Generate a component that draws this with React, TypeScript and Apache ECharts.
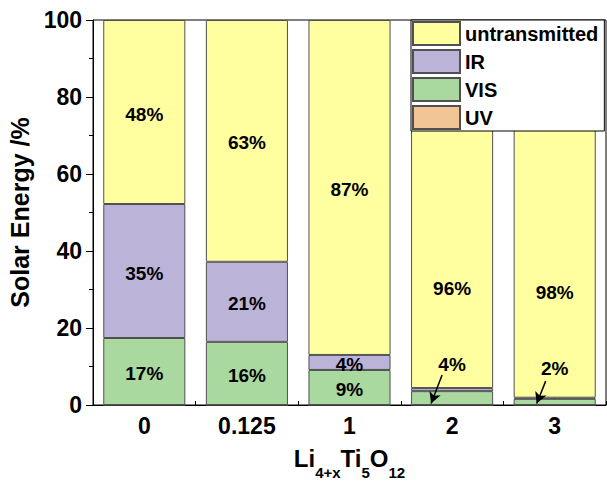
import React, { useEffect, useRef } from 'react';
import * as echarts from 'echarts';

const categories = ['0', '0.125', '1', '2', '3'];
const uvValues = [0, 0, 0, 0, 0];
const visValues = [17.4, 16.4, 9.1, 3.6, 1.6];
const irValues = [34.8, 20.8, 3.9, 0.8, 0.3];
const untransmittedValues = [47.8, 62.8, 87.0, 95.6, 98.1];
const visLabels = ['17%', '16%', '9%', '4%', '2%'];
const irLabels = ['35%', '21%', '4%', '', ''];
const untransmittedLabels = ['48%', '63%', '87%', '96%', '98%'];
const uvLabels = ['', '', '', '', ''];
// arrows pointing to small VIS segments: [category index, start value, end value]
const arrowBars = [3, 4];
const arrowStartValues = [7.8, 6.2];
const arrowEndValues = [0.4, 0.4];

const FONT = 'Liberation Sans, Arial, Helvetica, sans-serif';
const COLORS = {
  untransmitted: '#FFFFA0',
  IR: '#BCB3D8',
  VIS: '#AAD9A0',
  UV: '#F2C597',
};

function buildData(values: number[], labels: string[], overrides: Record<number, any> = {}) {
  return values.map((v, i) => ({
    value: v,
    label: {
      show: labels[i] !== '',
      formatter: labels[i] || '',
      ...(overrides[i] || {}),
    },
  }));
}

export default function App() {
  const ref = useRef<HTMLDivElement>(null);

  useEffect(() => {
    if (!ref.current) return;
    const chart = echarts.init(ref.current, null, { renderer: 'svg' });
    const labelStyle = {
      show: true,
      position: 'inside',
      color: '#000',
      fontSize: 19,
      fontWeight: 'bold',
      fontFamily: FONT,
      offset: [0, 2],
    };
    const barBase = (name: string) => ({
      name,
      type: 'bar',
      stack: 'total',
      barCategoryGap: '20%',
      itemStyle: { color: (COLORS as any)[name], borderColor: '#505050', borderWidth: 1 },
      label: labelStyle,
      emphasis: { disabled: true },
    });
    const option: any = {
      animation: false,
      textStyle: { fontFamily: FONT },
      grid: {
        left: 93,
        top: 20,
        right: 1,
        bottom: 76,
        outerBoundsMode: 'none',
        containLabel: false,
        show: true,
        borderColor: '#000',
        borderWidth: 1,
        backgroundColor: 'transparent',
      },
      legend: {
        data: ['untransmitted', 'IR', 'VIS', 'UV'],
        orient: 'vertical',
        left: 411,
        top: 20,
        itemWidth: 47,
        itemHeight: 23,
        itemGap: 3,
        padding: [1, 6, 1, 1],
        backgroundColor: '#fff',
        borderColor: '#000',
        borderWidth: 1,
        icon: 'rect',
        selectedMode: false,
        textStyle: { color: '#000', fontSize: 20, fontWeight: 'bold', fontFamily: FONT },
        z: 10,
      },
      xAxis: [
        {
          type: 'category',
          data: categories,
          position: 'bottom',
          name: '{n|Li}{s|4+x}{n|Ti}{s|5}{n|O}{s|12}',
          nameLocation: 'middle',
          nameGap: 41,
          nameTextStyle: {
            rich: {
              n: { fontSize: 24, fontWeight: 'bold', color: '#000', fontFamily: FONT, lineHeight: 24, verticalAlign: 'top' },
              s: { fontSize: 15, fontWeight: 'bold', color: '#000', fontFamily: FONT, lineHeight: 52, verticalAlign: 'middle' },
            },
          },
          axisLine: { show: true, lineStyle: { color: '#000', width: 1 } },
          axisTick: { show: true, alignWithLabel: true, inside: true, length: 7, lineStyle: { color: '#000' } },
          axisLabel: { color: '#000', fontSize: 23, fontWeight: 'bold', fontFamily: FONT, margin: 9 },
          splitLine: { show: false },
        },
        {
          type: 'category',
          data: categories,
          position: 'bottom',
          axisLine: { show: false },
          axisTick: { show: true, inside: true, length: 4, lineStyle: { color: '#000' } },
          axisLabel: { show: false },
          splitLine: { show: false },
        },
      ],
      yAxis: {
        type: 'value',
        min: 0,
        max: 100,
        interval: 20,
        name: 'Solar Energy /%',
        nameLocation: 'middle',
        nameGap: 52,
        nameTextStyle: { color: '#000', fontSize: 25, fontWeight: 'bold', fontFamily: FONT },
        axisLine: { show: true, lineStyle: { color: '#000', width: 1 } },
        axisTick: { show: true, inside: false, length: 7, lineStyle: { color: '#000' } },
        minorTick: { show: true, splitNumber: 2, length: 4, lineStyle: { color: '#000' } },
        axisLabel: { color: '#000', fontSize: 23, fontWeight: 'bold', fontFamily: FONT, margin: 11 },
        splitLine: { show: false },
      },
      series: [
        { ...barBase('UV'), data: buildData(uvValues, uvLabels) },
        {
          ...barBase('VIS'),
          id: 'vis',
          data: buildData(visValues, visLabels, {
            3: { position: 'top', distance: 17, offset: [0, 0] },
            4: { position: 'top', distance: 21, offset: [0, 0] },
          }),
        },
        { ...barBase('IR'), data: buildData(irValues, irLabels) },
        {
          ...barBase('untransmitted'),
          data: buildData(untransmittedValues, untransmittedLabels, {
            3: { offset: [0, 84] },
            4: { offset: [0, 84] },
          }),
        },
      ],
    };
    chart.setOption(option);

    const lines = arrowBars.map((idx, k) => {
      const startOffsets = [-10, -9];
      const endOffsets = [-21, -18];
      const p1 = chart.convertToPixel({ gridIndex: 0 }, [idx, arrowStartValues[k]]) as number[];
      const p2 = chart.convertToPixel({ gridIndex: 0 }, [idx, arrowEndValues[k]]) as number[];
      return [
        { x: p1[0] + startOffsets[k], y: p1[1] },
        { x: p2[0] + endOffsets[k], y: p2[1] },
      ];
    });
    chart.setOption({
      series: [
        {
          id: 'vis',
          markLine: {
            silent: true,
            symbol: ['none', 'arrow'],
            symbolSize: [9, 11],
            label: { show: false },
            lineStyle: { color: '#000', width: 1.5, type: 'solid' },
            data: lines,
            z: 20,
          },
        },
      ],
    });

    return () => chart.dispose();
  }, []);

  return (
    <div
      ref={ref}
      style={{ position: 'absolute', left: 0, top: 0, width: 607, height: 481 }}
    />
  );
}
